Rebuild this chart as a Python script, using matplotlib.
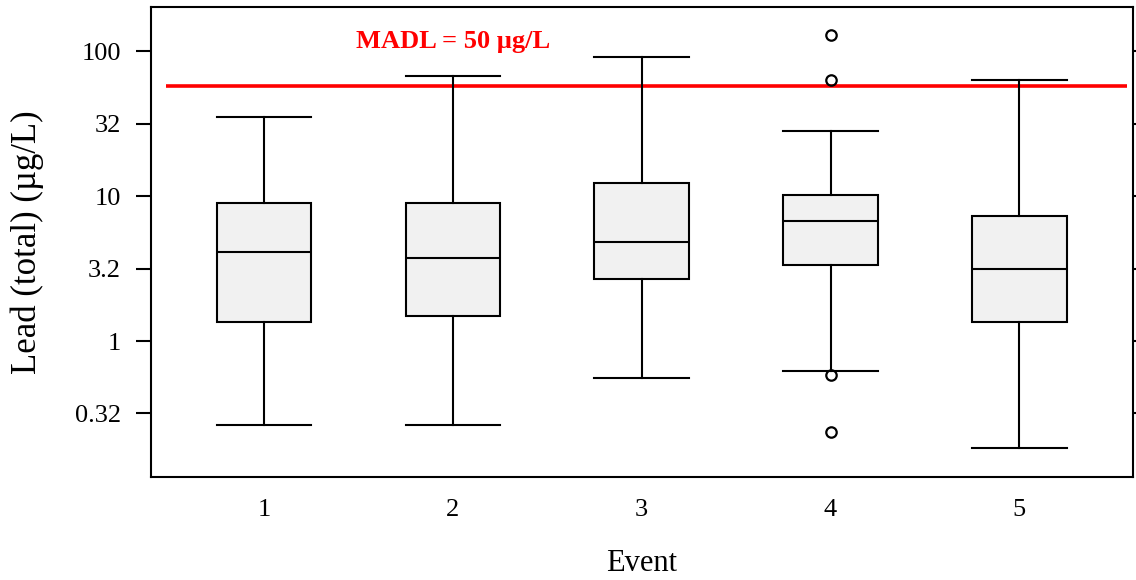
import matplotlib
matplotlib.use("Agg")
from matplotlib import pyplot as plt
from matplotlib.ticker import NullLocator

# Data ##########################################################################

EVENTS = [1, 2, 3, 4, 5]
WHISKER_LOW = [0.263, 0.263, 0.558, 0.617, 0.183]
QUARTILE_1 = [1.35, 1.50, 2.68, 3.35, 1.35]
MEDIANS = [4.10, 3.73, 4.85, 6.74, 3.16]
QUARTILE_3 = [9.02, 9.02, 12.4, 10.24, 7.33]
WHISKER_HIGH = [35.4, 67.9, 91.5, 28.2, 63.8]
OUTLIERS = [[], [], [], [129.8, 63.1, 0.582, 0.234], []]

MADL_LINE = 57.7
MADL_TEXT = "MADL = 50 µg/L"

Y_TICKS = [0.316, 1, 3.16, 10, 31.6, 100]
Y_TICK_LABELS = ["0.32", "1", "3.2", "10", "32", "100"]

# Style #########################################################################

FONT = "Liberation Serif"
LW = 1.5
BOX_COLOR = "#f1f1f1"


def main():
    plt.rcParams["font.family"] = [FONT, "DejaVu Serif"]
    fig = plt.figure(figsize=(11.36, 5.8), dpi=100)
    ax = fig.add_axes([150.7 / 1136, 1 - 476.7 / 580, 982 / 1136, 469.4 / 580])

    stats = []
    for i, ev in enumerate(EVENTS):
        stats.append(dict(label=str(ev), whislo=WHISKER_LOW[i], q1=QUARTILE_1[i],
                          med=MEDIANS[i], q3=QUARTILE_3[i], whishi=WHISKER_HIGH[i],
                          fliers=OUTLIERS[i]))

    ax.bxp(stats, positions=EVENTS, widths=0.5, patch_artist=True,
           boxprops=dict(facecolor=BOX_COLOR, edgecolor="black", linewidth=LW),
           medianprops=dict(color="black", linewidth=LW),
           whiskerprops=dict(color="black", linewidth=LW),
           capprops=dict(color="black", linewidth=LW),
           capwidths=0.5,
           flierprops=dict(marker="o", markersize=7.5, markerfacecolor="none",
                           markeredgecolor="black", markeredgewidth=1.6))

    # limit line
    ax.hlines(MADL_LINE, 0.48, 5.57, color="red", linewidth=2.6, zorder=1)
    ax.text(2.0, 118, MADL_TEXT, color="red", fontsize=19, fontweight="bold",
            ha="center", va="center")

    ax.set_yscale("log")
    ax.set_ylim(0.1156, 201.7)
    ax.set_xlim(0.4, 5.6)
    ax.set_yticks(Y_TICKS)
    ax.set_yticklabels(Y_TICK_LABELS)
    ax.yaxis.set_minor_locator(NullLocator())
    ax.set_xticks(EVENTS)
    ax.set_xticklabels([str(e) for e in EVENTS])

    ax.tick_params(axis="y", which="major", direction="out", length=10.5, width=LW,
                   labelsize=19, pad=11, right=True)
    ax.tick_params(axis="x", length=0, labelsize=19, pad=16)
    for sp in ax.spines.values():
        sp.set_linewidth(LW)

    ax.set_ylabel("Lead (total) (µg/L)", fontsize=25, labelpad=22)
    ax.set_xlabel("Event", fontsize=22, labelpad=20)

    fig.savefig("out.png", dpi=100)


if __name__ == "__main__":
    main()
